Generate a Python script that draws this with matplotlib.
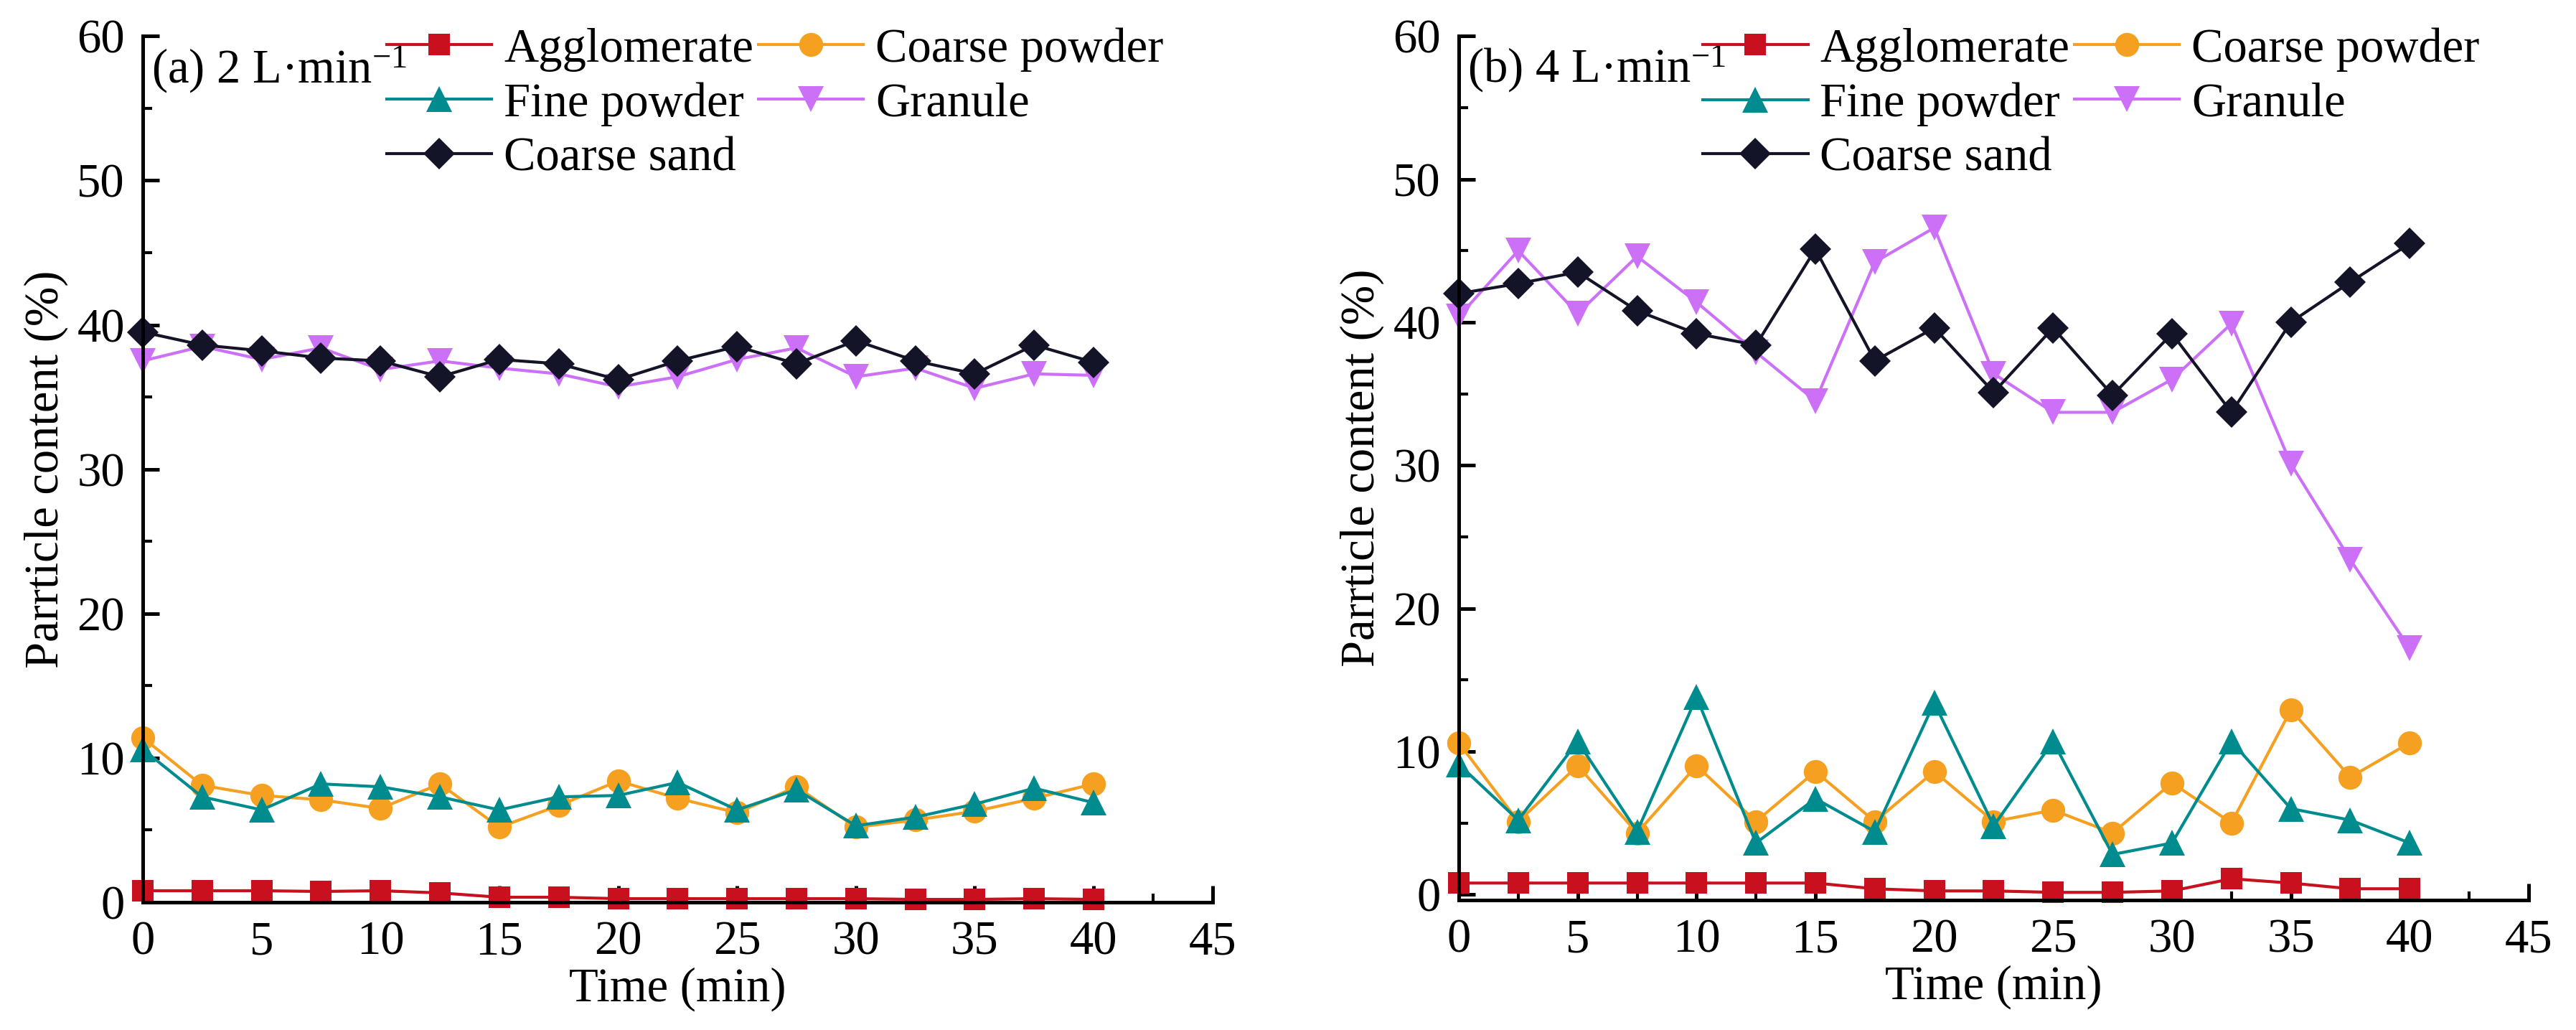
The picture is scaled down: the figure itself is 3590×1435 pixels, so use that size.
import matplotlib
matplotlib.use("Agg")
import matplotlib.pyplot as plt
from matplotlib.ticker import MultipleLocator

plt.rcParams['font.family'] = ['Liberation Serif', 'DejaVu Serif']
plt.rcParams['mathtext.fontset'] = 'custom'
plt.rcParams['mathtext.rm'] = 'Liberation Serif'
plt.rcParams['mathtext.it'] = 'Liberation Serif:italic'

time = [0, 2.5, 5, 7.5, 10, 12.5, 15, 17.5, 20, 22.5, 25, 27.5, 30, 32.5, 35, 37.5, 40]
series_names = ["Agglomerate", "Coarse powder", "Fine powder", "Granule", "Coarse sand"]

# Panel (a) 2 L/min
a_agglomerate = [0.8, 0.8, 0.8, 0.75, 0.8, 0.65, 0.35, 0.35, 0.25, 0.25, 0.25, 0.25, 0.25, 0.2, 0.2, 0.25, 0.2]
a_coarse_powder = [11.4, 8.1, 7.4, 7.1, 6.5, 8.2, 5.2, 6.7, 8.4, 7.2, 6.2, 8.0, 5.2, 5.7, 6.3, 7.2, 8.2]
a_fine_powder = [10.6, 7.3, 6.4, 8.2, 8.0, 7.3, 6.4, 7.3, 7.4, 8.3, 6.4, 7.8, 5.3, 5.9, 6.8, 7.9, 6.9]
a_granule = [37.5, 38.5, 37.6, 38.4, 36.9, 37.5, 37.0, 36.6, 35.7, 36.4, 37.6, 38.4, 36.4, 37.0, 35.6, 36.6, 36.5]
a_coarse_sand = [39.5, 38.6, 38.2, 37.7, 37.5, 36.4, 37.6, 37.3, 36.2, 37.5, 38.5, 37.3, 38.9, 37.5, 36.6, 38.6, 37.4]

# Panel (b) 4 L/min
b_agglomerate = [0.8, 0.8, 0.8, 0.8, 0.8, 0.8, 0.8, 0.4, 0.25, 0.25, 0.15, 0.15, 0.25, 1.1, 0.8, 0.4, 0.4]
b_coarse_powder = [10.6, 5.1, 9.0, 4.3, 9.0, 5.1, 8.6, 5.1, 8.6, 5.1, 5.9, 4.3, 7.8, 5.0, 12.9, 8.2, 10.6]
b_fine_powder = [9.1, 5.2, 10.7, 4.4, 13.8, 3.6, 6.7, 4.4, 13.4, 4.8, 10.7, 2.8, 3.6, 10.7, 6.0, 5.2, 3.6]
b_granule = [40.4, 45.0, 40.6, 44.6, 41.4, 37.9, 34.5, 44.2, 46.6, 36.4, 33.7, 33.7, 36.0, 39.9, 30.1, 23.4, 17.2]
b_coarse_sand = [42.0, 42.7, 43.5, 40.8, 39.2, 38.4, 45.1, 37.3, 39.6, 35.1, 39.6, 34.9, 39.2, 33.7, 40.0, 42.8, 45.5]

panel_titles = ["(a) 2 L\u00b7min$^{\u22121}$", "(b) 4 L\u00b7min$^{\u22121}$"]
xlabel = "Time (min)"
ylabel = "Parrticle content (%)"

colors = ["#C8101E", "#F5A020", "#008B8E", "#CC70F8", "#141428"]
markers = ["s", "o", "^", "v", "D"]
msizes = [7, 8, 8.5, 8.5, 7.5]

W, H, DPI = 3590, 1435, 300
fig = plt.figure(figsize=(W / DPI, H / DPI), dpi=DPI)

panels = [
    ([a_agglomerate, a_coarse_powder, a_fine_powder, a_granule, a_coarse_sand], (0.0554, 0.124, 0.4153, 0.841), (0, 60)),
    ([b_agglomerate, b_coarse_powder, b_fine_powder, b_granule, b_coarse_sand], (0.5663, 0.126, 0.4153, 0.839), (-0.4, 60)),
]

FS = 16
legend_order = [0, 2, 4, 1, 3]  # row-wise order in 2 columns
for i, (data, rect, ylim) in enumerate(panels):
    ax = fig.add_axes(rect)
    lines = []
    for name, vals, c, m, ms in zip(series_names, data, colors, markers, msizes):
        ln, = ax.plot(time, vals, color=c, marker=m, markersize=ms, linewidth=1.0,
                      markeredgewidth=0, label=name, clip_on=False)
        lines.append(ln)
    ax.set_xlim(0, 45)
    ax.set_ylim(*ylim)
    ax.xaxis.set_major_locator(MultipleLocator(5))
    ax.xaxis.set_minor_locator(MultipleLocator(2.5))
    ax.yaxis.set_major_locator(MultipleLocator(10))
    ax.yaxis.set_minor_locator(MultipleLocator(5))
    for s in ["top", "right"]:
        ax.spines[s].set_visible(False)
    for s in ["left", "bottom"]:
        ax.spines[s].set_linewidth(1.2)
    ax.tick_params(which="major", direction="in", length=5.5, width=1.2, labelsize=FS, pad=6)
    ax.tick_params(which="minor", direction="in", length=3, width=1.0)
    ax.set_xlabel(xlabel, fontsize=FS, labelpad=1)
    ax.set_ylabel(ylabel, fontsize=FS, labelpad=3)
    ax.text(0.008, 0.962, panel_titles[i], transform=ax.transAxes, fontsize=FS,
            ha="left", va="center")
    hs = [lines[k] for k in legend_order]
    ax.legend(hs, [series_names[k] for k in legend_order], loc="upper left",
              bbox_to_anchor=(0.228, 1.01), ncol=2, frameon=False,
              fontsize=FS, handlelength=2.2, handletextpad=0.25, columnspacing=0.1,
              labelspacing=0.22, borderpad=0, borderaxespad=0)

fig.savefig("out.png", dpi=DPI, facecolor="white")
